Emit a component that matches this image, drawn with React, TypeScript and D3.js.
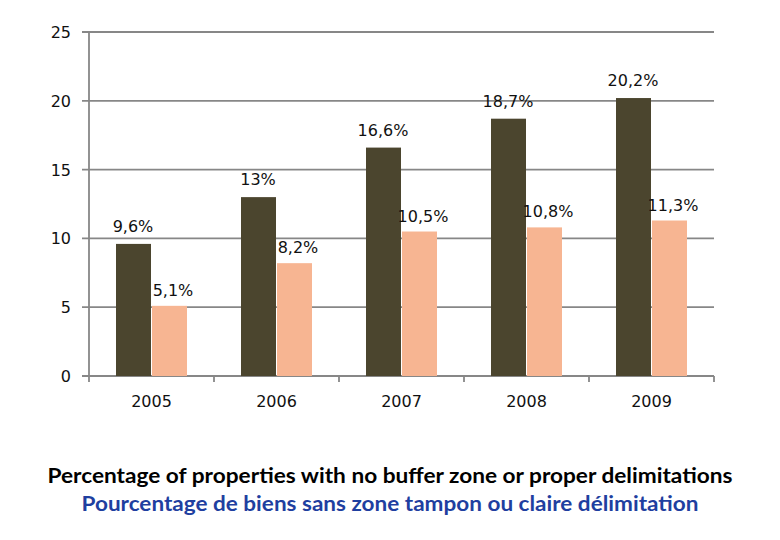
import { useRef, useEffect } from 'react';
import * as d3 from 'd3';

const years = ['2005', '2006', '2007', '2008', '2009'];
const seriesA = [9.6, 13, 16.6, 18.7, 20.2];
const seriesB = [5.1, 8.2, 10.5, 10.8, 11.3];
const labelsA = ['9,6%', '13%', '16,6%', '18,7%', '20,2%'];
const labelsB = ['5,1%', '8,2%', '10,5%', '10,8%', '11,3%'];
const yTicks = [0, 5, 10, 15, 20, 25];

const titleEn = 'Percentage of properties with no buffer zone or proper delimitations';
const titleFr = 'Pourcentage de biens sans zone tampon ou claire délimitation';

const W = 780;
const H = 540;

export default function App() {
  const svgRef = useRef<SVGSVGElement>(null);

  useEffect(() => {
    const svg = d3.select(svgRef.current);
    svg.selectAll('*').remove();

    const left = 89;
    const right = 714;
    const top = 32;
    const bottom = 376;
    const font = "'DejaVu Sans', Verdana, sans-serif";
    const grid = '#878787';
    const fs = '16px';

    const x = d3.scaleBand<string>().domain(years).range([left, right]);
    const y = d3.scaleLinear().domain([0, 25]).range([bottom, top]);
    const barW = 35;

    // Gridlines + y ticks
    svg.append('g')
      .selectAll('line')
      .data(yTicks)
      .join('line')
      .attr('x1', left - 7)
      .attr('x2', right)
      .attr('y1', (d) => y(d))
      .attr('y2', (d) => y(d))
      .attr('stroke', grid)
      .attr('stroke-width', 1.8);

    svg.append('g')
      .selectAll('text')
      .data(yTicks)
      .join('text')
      .attr('x', left - 18)
      .attr('y', (d) => y(d) + 6)
      .attr('text-anchor', 'end')
      .attr('font-family', font)
      .attr('font-size', fs)
      .attr('fill', '#111')
      .text((d) => d);

    // Y axis line
    svg.append('line')
      .attr('x1', left).attr('x2', left)
      .attr('y1', top).attr('y2', bottom)
      .attr('stroke', grid).attr('stroke-width', 1.8);

    // X category ticks
    const xTicks = [left, ...years.map((yr) => (x(yr) ?? 0) + x.bandwidth())];
    svg.append('g')
      .selectAll('line')
      .data(xTicks)
      .join('line')
      .attr('x1', (d) => d).attr('x2', (d) => d)
      .attr('y1', bottom).attr('y2', bottom + 6)
      .attr('stroke', grid).attr('stroke-width', 1.8);

    const centre = (i: number) => (x(years[i]) ?? 0) + x.bandwidth() / 2;

    // Bars
    svg.append('g')
      .selectAll('rect')
      .data(seriesA)
      .join('rect')
      .attr('x', (_d, i) => centre(i) - barW - 0.5)
      .attr('width', barW)
      .attr('y', (d) => y(d))
      .attr('height', (d) => bottom - y(d))
      .attr('fill', '#4b452e');

    svg.append('g')
      .selectAll('rect')
      .data(seriesB)
      .join('rect')
      .attr('x', (_d, i) => centre(i) + 0.5)
      .attr('width', barW)
      .attr('y', (d) => y(d))
      .attr('height', (d) => bottom - y(d))
      .attr('fill', '#f7b592');

    // Value labels
    svg.append('g')
      .selectAll('text')
      .data(seriesA)
      .join('text')
      .attr('x', (_d, i) => centre(i) - barW / 2 - 1)
      .attr('y', (d) => y(d) - 12)
      .attr('text-anchor', 'middle')
      .attr('font-family', font)
      .attr('font-size', fs)
      .attr('fill', '#111')
      .text((_d, i) => labelsA[i]);

    svg.append('g')
      .selectAll('text')
      .data(seriesB)
      .join('text')
      .attr('x', (_d, i) => centre(i) + barW / 2 + 4)
      .attr('y', (d) => y(d) - 10)
      .attr('text-anchor', 'middle')
      .attr('font-family', font)
      .attr('font-size', fs)
      .attr('fill', '#111')
      .text((_d, i) => labelsB[i]);

    // Year labels
    svg.append('g')
      .selectAll('text')
      .data(years)
      .join('text')
      .attr('x', (_d, i) => centre(i))
      .attr('y', bottom + 31)
      .attr('text-anchor', 'middle')
      .attr('font-family', font)
      .attr('font-size', fs)
      .attr('fill', '#111')
      .text((d) => d);

    // Titles
    svg.append('text')
      .attr('x', 390)
      .attr('y', 483)
      .attr('text-anchor', 'middle')
      .attr('font-family', "Lato, 'Open Sans', sans-serif")
      .attr('font-weight', 'bold')
      .attr('font-size', '20px')
      .attr('fill', '#000')
      .attr('textLength', 685)
      .attr('lengthAdjust', 'spacingAndGlyphs')
      .text(titleEn);

    svg.append('text')
      .attr('x', 390)
      .attr('y', 511)
      .attr('text-anchor', 'middle')
      .attr('font-family', "Lato, 'Open Sans', sans-serif")
      .attr('font-weight', 'bold')
      .attr('font-size', '20px')
      .attr('fill', '#1f3fa0')
      .attr('textLength', 617)
      .attr('lengthAdjust', 'spacingAndGlyphs')
      .text(titleFr);
  }, []);

  return (
    <svg
      ref={svgRef}
      width={W}
      height={H}
      viewBox={`0 0 ${W} ${H}`}
      style={{ position: 'absolute', left: 0, top: 0, background: '#fff' }}
    />
  );
}
